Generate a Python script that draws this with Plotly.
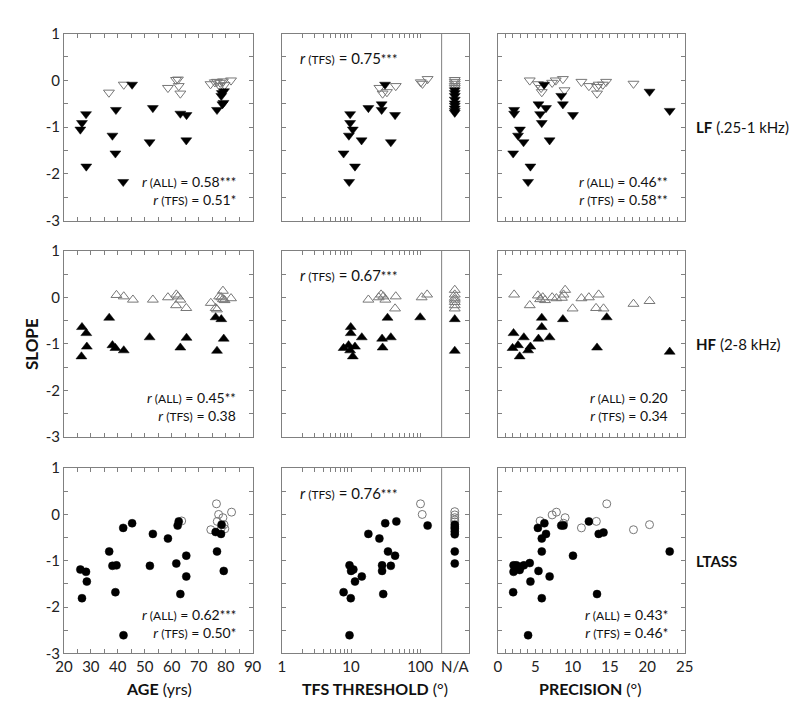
import plotly.graph_objects as go

W, H = 800, 703
FONT = "Lato"

# ---------------- DATA ----------------
# LF row (down triangles)
LF_AGE_FILLED_X = [26.1, 26.7, 28.2, 28.3, 38.0, 39.1, 39.3, 42.0, 45.3, 51.8, 53.0, 63.2, 65.5, 65.4, 76.8, 78.4, 79.4, 78.8, 79.2, 78.6]
LF_AGE_FILLED_Y = [-1.05, -0.91, -0.72, -1.84, -1.18, -1.56, -0.63, -2.17, -0.09, -1.32, -0.59, -0.71, -0.74, -1.28, -0.63, -0.33, -0.23, -0.51, -0.48, -0.27]
LF_AGE_OPEN_X = [36.7, 42.2, 58.6, 61.6, 62.3, 62.6, 63.2, 74.4, 76.0, 76.8, 77.8, 78.0, 79.0, 79.6, 82.0]
LF_AGE_OPEN_Y = [-0.26, -0.09, -0.16, 0.01, 0.02, -0.12, -0.28, -0.08, -0.04, -0.03, -0.12, -0.05, -0.02, -0.10, 0.0]

LF_TFS_FILLED_X = [9.7, 9.7, 10.6, 9.3, 14.2, 7.8, 11.4, 9.4, 17.8, 27.7, 27.7, 31.0, 43.3, 37.6]
LF_TFS_FILLED_Y = [-0.72, -0.91, -1.05, -1.18, -1.28, -1.56, -1.84, -2.17, -0.59, -0.51, -0.63, -0.09, -0.74, -1.32]
LF_TFS_OPEN_X = [25.7, 28.6, 33.0, 44.3, 102, 108, 128]
LF_TFS_OPEN_Y = [-0.16, -0.28, -0.25, -0.12, -0.04, -0.07, 0.03]
LF_NA_FILLED_Y = [-0.21, -0.27, -0.33, -0.41, -0.49, -0.54, -0.60, -0.65, -0.69]
LF_NA_OPEN_Y = [0.01, -0.03, -0.07, -0.12, -0.16]

LF_PREC_FILLED_X = [2.17, 2.17, 2.95, 2.69, 3.43, 2.04, 4.35, 4.04, 5.43, 5.65, 5.87, 6.44, 6.18, 6.92, 8.48, 8.70, 10.05, 20.3, 23.0]
LF_PREC_FILLED_Y = [-0.63, -0.71, -1.05, -1.18, -1.32, -1.56, -1.84, -2.17, -0.51, -0.72, -0.91, -0.59, -0.09, -1.28, -0.33, -0.51, -0.74, -0.24, -0.65]
LF_PREC_OPEN_X = [4.26, 5.35, 5.78, 5.87, 7.26, 7.74, 8.70, 8.92, 11.18, 12.18, 13.27, 13.49, 13.27, 14.05, 14.49, 18.15]
LF_PREC_OPEN_Y = [0.0, -0.08, -0.16, -0.25, -0.05, 0.0, 0.03, -0.21, -0.03, -0.12, -0.14, -0.09, -0.28, -0.09, -0.03, -0.07]

# HF row (up triangles)
HF_AGE_FILLED_X = [26.5, 26.7, 28.3, 28.5, 36.8, 38.0, 39.1, 42.2, 51.8, 63.2, 65.5, 76.3, 76.8, 78.4, 79.3]
HF_AGE_FILLED_Y = [-1.27, -0.64, -0.77, -1.06, -0.44, -1.03, -1.09, -1.14, -0.86, -1.08, -0.87, -0.43, -1.15, -0.47, -0.89]
HF_AGE_OPEN_X = [39.5, 42.2, 45.6, 53.0, 58.6, 61.7, 62.3, 63.2, 61.6, 65.4, 74.5, 76.3, 76.8, 77.6, 78.4, 79.0, 79.0, 79.6, 82.0]
HF_AGE_OPEN_Y = [0.05, 0.02, -0.05, -0.05, 0.0, 0.06, 0.02, -0.05, -0.17, -0.23, -0.12, -0.23, -0.26, 0.02, 0.0, 0.14, -0.04, -0.06, -0.02]

HF_TFS_FILLED_X = [9.9, 9.9, 7.8, 9.2, 9.7, 10.6, 11.4, 14.3, 28.1, 28.6, 33.7, 37.6, 100]
HF_TFS_FILLED_Y = [-0.64, -0.77, -1.09, -1.03, -1.14, -1.27, -1.06, -0.86, -0.89, -1.08, -0.44, -0.86, -0.43]
HF_TFS_OPEN_X = [17.8, 25.1, 27.2, 29.3, 31.3, 44.3, 43.3, 105, 126]
HF_TFS_OPEN_Y = [-0.05, 0.0, 0.06, 0.02, -0.05, 0.02, -0.24, 0.0, 0.06]
HF_NA_FILLED_Y = [-0.47, -1.15]
HF_NA_OPEN_Y = [0.16, 0.06, -0.01, -0.05, -0.10, -0.17, -0.24]

HF_PREC_FILLED_X = [2.09, 1.96, 2.69, 2.91, 3.47, 4.04, 4.35, 5.43, 5.87, 5.87, 6.92, 8.70, 13.27, 14.57, 23.0]
HF_PREC_FILLED_Y = [-0.77, -1.09, -1.03, -1.27, -0.86, -1.14, -1.06, -0.89, -0.44, -0.64, -0.86, -0.47, -1.08, -0.43, -1.17]
HF_PREC_OPEN_X = [2.17, 4.26, 5.35, 5.65, 6.0, 6.31, 7.26, 7.83, 8.57, 9.0, 8.78, 10.0, 11.18, 12.18, 13.49, 13.14, 14.14, 18.15, 20.3]
HF_PREC_OPEN_Y = [0.06, -0.17, 0.04, -0.04, 0.0, -0.06, 0.0, -0.02, -0.01, 0.16, 0.06, -0.24, -0.02, 0.0, 0.06, -0.23, -0.24, -0.14, -0.08]

# LTASS row (circles)
LT_AGE_FILLED_X = [26.1, 26.7, 28.2, 28.5, 36.8, 38.0, 39.5, 39.1, 42.0, 42.1, 45.3, 51.9, 53.0, 58.6, 61.7, 62.2, 62.6, 63.2, 65.4, 65.4, 76.3, 76.8, 78.3, 78.5, 79.3]
LT_AGE_FILLED_Y = [-1.19, -1.81, -1.24, -1.45, -0.80, -1.11, -1.10, -1.68, -0.29, -2.61, -0.19, -1.11, -0.42, -0.52, -1.06, -0.24, -0.15, -1.72, -0.89, -1.34, -0.38, -0.80, -0.42, -0.22, -1.22]
LT_AGE_OPEN_X = [63.7, 74.5, 76.6, 77.4, 76.9, 79.0, 78.4, 79.4, 79.7, 82.2]
LT_AGE_OPEN_Y = [-0.14, -0.33, 0.23, 0.0, -0.15, -0.07, -0.29, -0.22, -0.31, 0.05]

LT_TFS_FILLED_X = [7.8, 9.5, 10.0, 10.8, 9.9, 11.4, 14.3, 9.5, 17.8, 25.7, 28.1, 28.1, 29.2, 31.2, 34.2, 37.6, 43.3, 45.2, 128]
LT_TFS_FILLED_Y = [-1.68, -1.10, -1.22, -1.19, -1.81, -1.45, -1.34, -2.61, -0.42, -0.52, -1.10, -1.22, -1.72, -0.19, -0.80, -1.11, -0.89, -0.15, -0.24]
LT_TFS_OPEN_X = [101, 107]
LT_TFS_OPEN_Y = [0.23, 0.0]
LT_NA_FILLED_Y = [-0.22, -0.27, -0.31, -0.37, -0.43, -0.80, -1.06]
LT_NA_OPEN_Y = [0.06, -0.01, -0.07, -0.12, -0.16]

LT_PREC_FILLED_X = [2.09, 2.09, 2.48, 2.91, 3.04, 3.47, 4.26, 2.04, 4.35, 4.04, 5.43, 5.35, 5.87, 5.87, 5.87, 6.22, 6.44, 6.92, 8.48, 8.78, 10.05, 12.18, 13.27, 13.49, 14.14, 23.0]
LT_PREC_FILLED_Y = [-1.10, -1.24, -1.10, -1.20, -1.13, -1.10, -1.05, -1.68, -1.45, -2.61, -1.22, -0.29, -0.52, -0.80, -1.81, -0.19, -0.42, -1.34, -0.24, -0.24, -0.89, -0.15, -1.72, -0.42, -0.39, -0.80]
LT_PREC_OPEN_X = [5.65, 7.26, 7.83, 9.0, 8.78, 11.18, 13.18, 14.57, 18.15, 20.3]
LT_PREC_OPEN_Y = [-0.14, -0.01, 0.05, -0.07, -0.19, -0.29, -0.15, 0.23, -0.33, -0.22]

# correlation labels: (label, value, stars)
R_AGE = [[("ALL", "0.58", "***"), ("TFS", "0.51", "*")],
         [("ALL", "0.45", "**"), ("TFS", "0.38", "")],
         [("ALL", "0.62", "***"), ("TFS", "0.50", "*")]]
R_TFS = [("TFS", "0.75", "***"), ("TFS", "0.67", "***"), ("TFS", "0.76", "***")]
R_PREC = [[("ALL", "0.46", "**"), ("TFS", "0.58", "**")],
          [("ALL", "0.20", ""), ("TFS", "0.34", "")],
          [("ALL", "0.43", "*"), ("TFS", "0.46", "*")]]

ROW_NAMES = [("LF", " (.25-1 kHz)"), ("HF", " (2-8 kHz)"), ("LTASS", "")]
Y_TICKS = [1, 0, -1, -2, -3]
Y_TICKTEXT = ["1", "0", "-1", "-2", "-3"]
AGE_TICKS = [20, 30, 40, 50, 60, 70, 80, 90]
TFS_TICKS = [1, 10, 100]
PREC_TICKS = [0, 5, 10, 15, 20, 25]

# ---------------- LAYOUT ----------------
COL_PX = [(48, 241), (271, 462), (492, 683)]
ROW_PX = [(16, 208), (239, 430), (462, 652)]
TFS_LOG_MAX = 2.70
NA_LOG = 2.5
DIVIDER_LOG = 2.31

def xd(a, b):
    return [a / W, b / W]

def yd(a, b):
    return [1 - b / H, 1 - a / H]

def px_x(p):
    return p / W

def px_y(p):
    return 1 - p / H

fig = go.Figure()

symbols = ["triangle-down", "triangle-up", "circle"]
sizes = [9.5, 9.5, 8]
open_color = "#777777"

rows_data = [
    [(LF_AGE_FILLED_X, LF_AGE_FILLED_Y, LF_AGE_OPEN_X, LF_AGE_OPEN_Y),
     (LF_TFS_FILLED_X, LF_TFS_FILLED_Y, LF_TFS_OPEN_X, LF_TFS_OPEN_Y, LF_NA_FILLED_Y, LF_NA_OPEN_Y),
     (LF_PREC_FILLED_X, LF_PREC_FILLED_Y, LF_PREC_OPEN_X, LF_PREC_OPEN_Y)],
    [(HF_AGE_FILLED_X, HF_AGE_FILLED_Y, HF_AGE_OPEN_X, HF_AGE_OPEN_Y),
     (HF_TFS_FILLED_X, HF_TFS_FILLED_Y, HF_TFS_OPEN_X, HF_TFS_OPEN_Y, HF_NA_FILLED_Y, HF_NA_OPEN_Y),
     (HF_PREC_FILLED_X, HF_PREC_FILLED_Y, HF_PREC_OPEN_X, HF_PREC_OPEN_Y)],
    [(LT_AGE_FILLED_X, LT_AGE_FILLED_Y, LT_AGE_OPEN_X, LT_AGE_OPEN_Y),
     (LT_TFS_FILLED_X, LT_TFS_FILLED_Y, LT_TFS_OPEN_X, LT_TFS_OPEN_Y, LT_NA_FILLED_Y, LT_NA_OPEN_Y),
     (LT_PREC_FILLED_X, LT_PREC_FILLED_Y, LT_PREC_OPEN_X, LT_PREC_OPEN_Y)],
]

axis_common = dict(showline=True, linecolor="#808080", linewidth=1, mirror="ticks",
                   ticks="inside", ticklen=4, tickcolor="#808080", tickwidth=1,
                   showgrid=False, zeroline=False,
                   tickfont=dict(family=FONT, size=15, color="#222"))

layout = {}
annotations = []
shapes = []
na_x = 10 ** NA_LOG


def rtxt(t):
    lab, val, st = t
    s = f"<i>r</i><span style='font-size:12px'> ({lab})</span> = {val}"
    if st:
        s += f"<span style='font-size:13px'>{st}</span>"
    return s


for r in range(3):
    for c in range(3):
        i = r * 3 + c + 1
        xa = "x" if i == 1 else f"x{i}"
        ya = "y" if i == 1 else f"y{i}"
        xkey = "xaxis" if i == 1 else f"xaxis{i}"
        ykey = "yaxis" if i == 1 else f"yaxis{i}"
        d = rows_data[r][c]
        sym = symbols[r]
        sz = sizes[r]
        xs_o, ys_o = list(d[2]), list(d[3])
        xs_f, ys_f = list(d[0]), list(d[1])
        if c == 1:
            xs_o += [na_x] * len(d[5])
            ys_o += list(d[5])
            xs_f += [na_x] * len(d[4])
            ys_f += list(d[4])
        fig.add_trace(go.Scatter(x=xs_o, y=ys_o, mode="markers", xaxis=xa, yaxis=ya,
                                 marker=dict(symbol=sym + "-open", size=sz, color=open_color,
                                             line=dict(width=1, color=open_color)),
                                 showlegend=False, hoverinfo="skip"))
        fig.add_trace(go.Scatter(x=xs_f, y=ys_f, mode="markers", xaxis=xa, yaxis=ya,
                                 marker=dict(symbol=sym, size=sz, color="black",
                                             line=dict(width=0.5, color="black")),
                                 showlegend=False, hoverinfo="skip"))
        # axes
        xdict = dict(axis_common, domain=xd(*COL_PX[c]), anchor=ya,
                     showticklabels=(r == 2))
        if c == 0:
            xdict.update(range=[20, 90], tickvals=AGE_TICKS,
                         minor=dict(dtick=5, tick0=0, ticks="inside", ticklen=4, tickcolor="#808080"))
        elif c == 1:
            xdict.update(type="log", range=[0, TFS_LOG_MAX], tickvals=TFS_TICKS,
                         ticktext=[str(v) for v in TFS_TICKS],
                         minor=dict(tickmode="array",
                                    tickvals=[2, 3, 4, 5, 6, 7, 8, 9, 20, 30, 40, 50, 60, 70, 80, 90],
                                    ticks="inside", ticklen=4, tickcolor="#808080"))
        else:
            xdict.update(range=[0, 25], tickvals=PREC_TICKS,
                         minor=dict(dtick=1, tick0=0, ticks="inside", ticklen=4, tickcolor="#808080"))
        ydict = dict(axis_common, domain=yd(*ROW_PX[r]), anchor=xa, range=[-3, 1],
                     tickvals=Y_TICKS, ticktext=Y_TICKTEXT, showticklabels=(c == 0),
                     minor=dict(dtick=0.5, tick0=0, ticks="inside", ticklen=4, tickcolor="#808080"))
        layout[xkey] = xdict
        layout[ykey] = ydict

        # correlation text
        x0, x1 = COL_PX[c]
        y0, y1 = ROW_PX[r]
        if c in (0, 2):
            pair = R_AGE[r] if c == 0 else R_PREC[r]
            annotations.append(dict(x=px_x(x1 - 15), y=px_y(y1 - 31),
                                    xref="paper", yref="paper", xanchor="right", yanchor="middle",
                                    align="right",
                                    text="<br>".join(rtxt(t) for t in pair), showarrow=False,
                                    font=dict(family=FONT, size=14, color="#111")))
        else:
            annotations.append(dict(x=px_x(x0 + 16), y=px_y(y0 + 25),
                                    xref="paper", yref="paper", xanchor="left", yanchor="middle",
                                    text=rtxt(R_TFS[r]), showarrow=False,
                                    font=dict(family=FONT, size=15, color="#111")))
            shapes.append(dict(type="line", xref=f"{xa} domain", yref=f"{ya} domain",
                               x0=DIVIDER_LOG / TFS_LOG_MAX, x1=DIVIDER_LOG / TFS_LOG_MAX, y0=0, y1=1,
                               line=dict(color="#808080", width=1)))

    # row label at y = -1
    bold, rest = ROW_NAMES[r]
    y0, y1 = ROW_PX[r]
    ypix = y0 + (y1 - y0) * (1 - (-1)) / 4
    annotations.append(dict(x=px_x(693), y=px_y(ypix), xref="paper", yref="paper",
                            xanchor="left", yanchor="middle", showarrow=False,
                            text=f"<b>{bold}</b>{rest}",
                            font=dict(family=FONT, size=15, color="#111")))

# N/A tick label
annotations.append(dict(x=NA_LOG, y=px_y(665), xref="x8", yref="paper", yanchor="middle",
                        xanchor="center", showarrow=False, text="N/A",
                        font=dict(family=FONT, size=15, color="#222")))

# axis titles
for txt, cx in [("<b>AGE</b> (yrs)", 145), ("<b>TFS THRESHOLD</b> (°)", 366), ("<b>PRECISION</b> (°)", 587)]:
    annotations.append(dict(x=px_x(cx), y=px_y(688), xref="paper", yref="paper",
                            xanchor="center", yanchor="middle", showarrow=False, text=txt,
                            font=dict(family=FONT, size=16, color="#111")))
annotations.append(dict(x=px_x(15), y=px_y(335), xref="paper", yref="paper",
                        xanchor="center", yanchor="middle", showarrow=False, textangle=-90,
                        text="<b>SLOPE</b>", font=dict(family=FONT, size=17, color="#111")))

fig.update_layout(**layout)
fig.update_layout(width=W, height=H, margin=dict(l=0, r=0, t=0, b=0),
                  paper_bgcolor="white", plot_bgcolor="white",
                  annotations=annotations, shapes=shapes, showlegend=False,
                  font=dict(family=FONT))
fig.write_html("out.html")
